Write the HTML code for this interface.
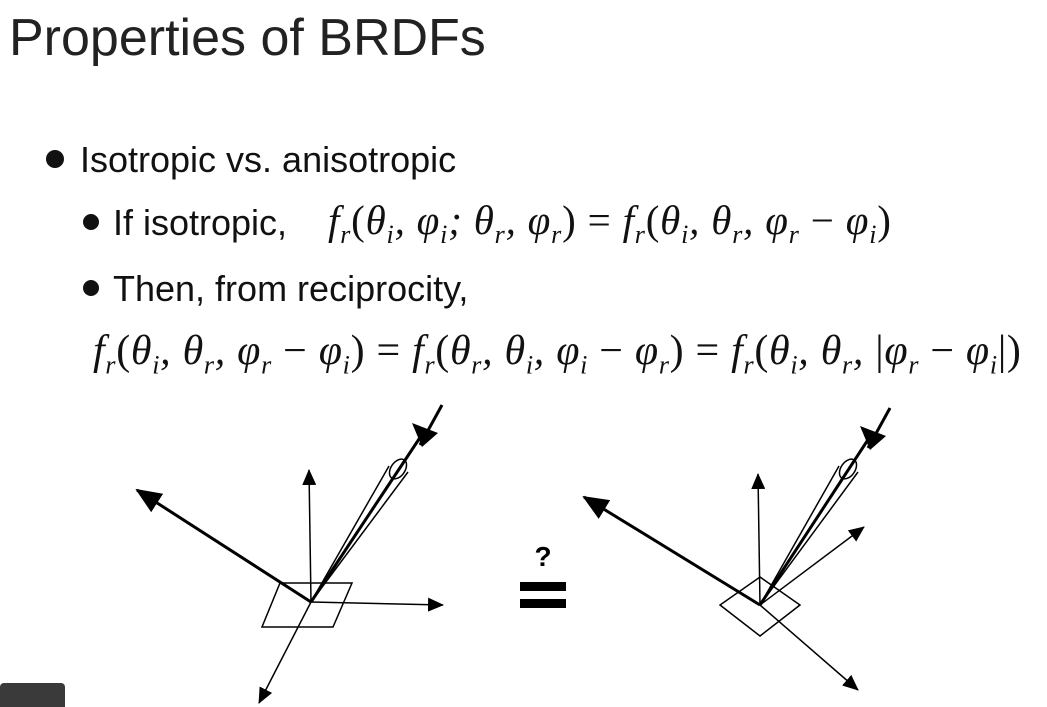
<!DOCTYPE html>
<html><head><meta charset="utf-8"><style>
html,body{margin:0;padding:0;background:#fff;}
body{width:1047px;height:707px;position:relative;overflow:hidden;font-family:"Liberation Sans",sans-serif;color:#111;}
.t{position:absolute;white-space:nowrap;line-height:1;}
.m{font-family:"Liberation Serif",serif;font-style:italic;}
.m span.u{font-style:normal;}
.m sub{font-size:26px;}
.dot{position:absolute;border-radius:50%;background:#111;}
</style></head><body>
<div class="t" style="left:9px;top:12px;font-size:52px;color:#222;">Properties of BRDFs</div>
<div class="dot" style="left:46px;top:150px;width:18px;height:18px;"></div>
<div class="t" style="left:80px;top:142px;font-size:36px;">Isotropic vs. anisotropic</div>
<div class="dot" style="left:83px;top:214px;width:16px;height:16px;"></div>
<div class="t" style="left:113px;top:205px;font-size:36px;">If isotropic,</div>
<div class="t m" style="left:328px;top:200px;font-size:41px;letter-spacing:0.8px;">f<sub>r</sub><span class="u">(</span>θ<sub>i</sub>, φ<sub>i</sub>; θ<sub>r</sub>, φ<sub>r</sub><span class="u">) = </span>f<sub>r</sub><span class="u">(</span>θ<sub>i</sub>, θ<sub>r</sub>, φ<sub>r</sub> <span class="u">−</span> φ<sub>i</sub><span class="u">)</span></div>
<div class="dot" style="left:83px;top:280px;width:16px;height:16px;"></div>
<div class="t" style="left:113px;top:271px;font-size:36px;">Then, from reciprocity,</div>
<div class="t m" style="left:93px;top:330px;font-size:42px;letter-spacing:0.7px;">f<sub>r</sub><span class="u">(</span>θ<sub>i</sub>, θ<sub>r</sub>, φ<sub>r</sub> <span class="u">−</span> φ<sub>i</sub><span class="u">) = </span>f<sub>r</sub><span class="u">(</span>θ<sub>r</sub>, θ<sub>i</sub>, φ<sub>i</sub> <span class="u">−</span> φ<sub>r</sub><span class="u">) = </span>f<sub>r</sub><span class="u">(</span>θ<sub>i</sub>, θ<sub>r</sub>, <span class="u">|</span>φ<sub>r</sub> <span class="u">−</span> φ<sub>i</sub><span class="u">|)</span></div>
<svg width="1047" height="707" style="position:absolute;left:0;top:0">
<defs>
<marker id="ahb" markerWidth="26" markerHeight="22" refX="24" refY="11" orient="auto" markerUnits="userSpaceOnUse"><path d="M0,0 L26,11 L0,22 z" fill="#000"/></marker>
<marker id="ahm" markerWidth="16" markerHeight="14" refX="15" refY="7" orient="auto" markerUnits="userSpaceOnUse"><path d="M0,0 L16,7 L0,14 z" fill="#000"/></marker>
</defs>
<g stroke="#000" fill="none">
<polygon points="280,583 352,583 333,627 262,627" stroke-width="1.5"/>
<line x1="311" y1="602" x2="309" y2="470" stroke-width="1.5" marker-end="url(#ahm)"/>
<line x1="311" y1="602" x2="443" y2="605" stroke-width="1.5" marker-end="url(#ahm)"/>
<line x1="311" y1="602" x2="259" y2="703" stroke-width="1.5" marker-end="url(#ahm)"/>
<line x1="311" y1="602" x2="137" y2="490" stroke-width="3" marker-end="url(#ahb)"/>
<line x1="311" y1="602" x2="389" y2="466" stroke-width="1.5"/>
<line x1="311" y1="602" x2="408" y2="472" stroke-width="1.5"/>
<ellipse cx="398" cy="469" rx="11" ry="7" transform="rotate(-55 398 469)" stroke-width="1.5"/>
<line x1="442" y1="405" x2="420" y2="445" stroke-width="3"/>
<line x1="425" y1="430" x2="311" y2="602" stroke-width="3"/>
<path d="M412,423 L438,433 L422,447 z" fill="#000" stroke="none"/>
</g>
<g stroke="#000" fill="none">
<polygon points="760,577 800,605 760,636 720,605" stroke-width="1.5"/>
<line x1="760" y1="605" x2="758" y2="474" stroke-width="1.5" marker-end="url(#ahm)"/>
<line x1="760" y1="605" x2="864" y2="527" stroke-width="1.5" marker-end="url(#ahm)"/>
<line x1="760" y1="605" x2="858" y2="690" stroke-width="1.5" marker-end="url(#ahm)"/>
<line x1="760" y1="605" x2="584" y2="497" stroke-width="3" marker-end="url(#ahb)"/>
<line x1="760" y1="605" x2="839" y2="466" stroke-width="1.5"/>
<line x1="760" y1="605" x2="858" y2="472" stroke-width="1.5"/>
<ellipse cx="848" cy="469" rx="11" ry="7" transform="rotate(-55 848 469)" stroke-width="1.5"/>
<line x1="890" y1="408" x2="868" y2="448" stroke-width="3"/>
<line x1="873" y1="432" x2="760" y2="605" stroke-width="3"/>
<path d="M860,426 L886,436 L870,450 z" fill="#000" stroke="none"/>
</g>
<g fill="#000">
<rect x="520" y="582" width="46" height="9"/>
<rect x="520" y="599" width="46" height="9"/>
<text x="543" y="566" font-family="Liberation Sans,sans-serif" font-weight="bold" font-size="28" text-anchor="middle">?</text>
</g>
</svg>
<div style="position:absolute;left:0;top:683px;width:65px;height:24px;background:#3a3a3a;border-radius:4px 4px 0 0;"></div>
</body></html>
